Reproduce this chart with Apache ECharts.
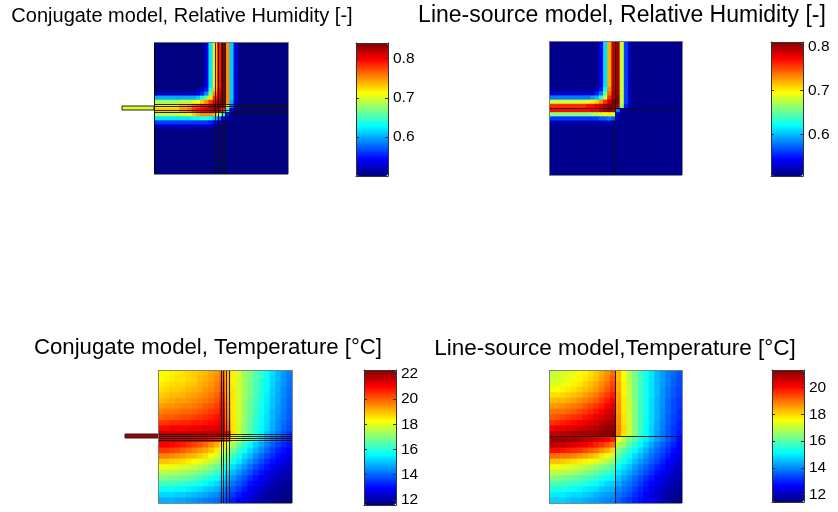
<!DOCTYPE html>
<html>
<head>
<meta charset="utf-8">
<script src="https://cdn.jsdelivr.net/npm/echarts@6/dist/echarts.min.js"></script>
<style>
html,body{margin:0;padding:0;background:#fff}
#chart{width:838px;height:512px}
</style>
</head>
<body>
<div id="chart"></div>
<script>
// ---- Panel titles ----
const panelTitles = [
  'Conjugate model, Relative Humidity [-]',
  'Line-source model, Relative Humidity [-]',
  'Conjugate model, Temperature [°C]',
  'Line-source model,Temperature [°C]'
];

// ---- Colour ranges and colourbar ticks ----
const rhConjugateRange = [0.5, 0.84];
const rhLineSourceRange = [0.506, 0.81];
const tConjugateRange = [11.6, 22.3];
const tLineSourceRange = [11.45, 21.3];
const rhConjugateTicks = [0.6, 0.7, 0.8];
const rhLineSourceTicks = [0.6, 0.7, 0.8];
const tConjugateTicks = [12, 14, 16, 18, 20, 22];
const tLineSourceTicks = [12, 14, 16, 18, 20];

// ---- Pipe walls (normalised domain coordinates, x from left, y from top) ----
const rhConjugateWalls = { x: [0.463, 0.480, 0.510, 0.532], y: [0.470, 0.490, 0.515, 0.533] };
const rhLineSourceWalls = { x: [0.504], y: [0.502] };
const tConjugateWalls = { x: [0.470, 0.487, 0.505, 0.530], y: [0.476, 0.501, 0.514, 0.532] };
const tLineSourceWalls = { x: [0.504], y: [0.496] };

// ---- Values inside the pipe stub that leaves the domain (conjugate model) ----
const rhConjugatePipe = 0.70;
const tConjugatePipe = 21.9;

// ---- Relative humidity, conjugate model [%], 32 x 32 cells, rows top to bottom ----
const rhConjugate = [
  [50,50,50,50,50,50,50,50,50,50,50,50,53,62,72,79,84,75,61,53,50,50,50,50,50,50,50,50,50,50,50,50],
  [50,50,50,50,50,50,50,50,50,50,50,50,53,62,72,79,84,75,61,53,50,50,50,50,50,50,50,50,50,50,50,50],
  [50,50,50,50,50,50,50,50,50,50,50,50,53,62,72,79,84,75,61,53,50,50,50,50,50,50,50,50,50,50,50,50],
  [50,50,50,50,50,50,50,50,50,50,50,50,53,62,72,79,84,75,61,53,50,50,50,50,50,50,50,50,50,50,50,50],
  [50,50,50,50,50,50,50,50,50,50,50,50,53,62,72,79,84,75,61,53,50,50,50,50,50,50,50,50,50,50,50,50],
  [50,50,50,50,50,50,50,50,50,50,50,50,53,62,72,79,84,75,61,53,50,50,50,50,50,50,50,50,50,50,50,50],
  [50,50,50,50,50,50,50,50,50,50,50,50,53,62,72,79,84,75,61,53,50,50,50,50,50,50,50,50,50,50,50,50],
  [50,50,50,50,50,50,50,50,50,50,50,50,53,62,72,79,84,75,61,53,50,50,50,50,50,50,50,50,50,50,50,50],
  [50,50,50,50,50,50,50,50,50,50,50,50,53,62,72,79,84,75,61,53,50,50,50,50,50,50,50,50,50,50,50,50],
  [50,50,50,50,50,50,50,50,50,50,50,50,53,62,72,79,84,75,61,53,50,50,50,50,50,50,50,50,50,50,50,50],
  [50,50,50,50,50,50,50,50,50,50,50,50,53,62,72,79,84,75,61,53,50,50,50,50,50,50,50,50,50,50,50,50],
  [50,50,50,50,50,50,50,50,50,50,51,52,55,64,73,80,84,75,61,53,50,50,50,50,50,50,50,50,50,50,50,50],
  [52,52,52,52,52,52,52,52,52,52,53,55,59,67,75,81,84,75,61,53,50,50,50,50,50,50,50,50,50,50,50,50],
  [60,60,60,60,60,60,60,60,60,60,61,63,67,72,78,82,84,75,61,53,50,50,50,50,50,50,50,50,50,50,50,50],
  [68,68,68,68,68,68,69,69,69,70,71,73,75,78,81,83,84,75,60,53,50,50,50,50,50,50,50,50,50,50,50,50],
  [72,72,72,72,72,72,74,74,75,77,78,79,80,82,83,84,83,72,58,52,50,50,50,50,50,50,50,50,50,50,50,50],
  [73,73,73,73,73,73,75,75,76,78,79,80,81,82,83,82,78,64,54,51,50,50,50,50,50,50,50,50,50,50,50,50],
  [69,69,69,69,69,69,70,70,71,73,74,75,75,75,74,70,63,55,51,50,50,50,50,50,50,50,50,50,50,50,50,50],
  [62,62,62,62,62,62,62,62,62,63,63,64,64,63,61,58,54,51,50,50,50,50,50,50,50,50,50,50,50,50,50,50],
  [56,56,56,56,56,56,56,56,56,56,56,56,56,55,54,52,51,50,50,50,50,50,50,50,50,50,50,50,50,50,50,50],
  [52,52,52,52,52,52,52,52,52,52,52,52,52,52,51,50,50,50,50,50,50,50,50,50,50,50,50,50,50,50,50,50],
  [50,50,50,50,50,50,50,50,50,50,50,50,50,50,50,50,50,50,50,50,50,50,50,50,50,50,50,50,50,50,50,50],
  [50,50,50,50,50,50,50,50,50,50,50,50,50,50,50,50,50,50,50,50,50,50,50,50,50,50,50,50,50,50,50,50],
  [50,50,50,50,50,50,50,50,50,50,50,50,50,50,50,50,50,50,50,50,50,50,50,50,50,50,50,50,50,50,50,50],
  [50,50,50,50,50,50,50,50,50,50,50,50,50,50,50,50,50,50,50,50,50,50,50,50,50,50,50,50,50,50,50,50],
  [50,50,50,50,50,50,50,50,50,50,50,50,50,50,50,50,50,50,50,50,50,50,50,50,50,50,50,50,50,50,50,50],
  [50,50,50,50,50,50,50,50,50,50,50,50,50,50,50,50,50,50,50,50,50,50,50,50,50,50,50,50,50,50,50,50],
  [50,50,50,50,50,50,50,50,50,50,50,50,50,50,50,50,50,50,50,50,50,50,50,50,50,50,50,50,50,50,50,50],
  [50,50,50,50,50,50,50,50,50,50,50,50,50,50,50,50,50,50,50,50,50,50,50,50,50,50,50,50,50,50,50,50],
  [50,50,50,50,50,50,50,50,50,50,50,50,50,50,50,50,50,50,50,50,50,50,50,50,50,50,50,50,50,50,50,50],
  [50,50,50,50,50,50,50,50,50,50,50,50,50,50,50,50,50,50,50,50,50,50,50,50,50,50,50,50,50,50,50,50],
  [50,50,50,50,50,50,50,50,50,50,50,50,50,50,50,50,50,50,50,50,50,50,50,50,50,50,50,50,50,50,50,50]
];

// ---- Relative humidity, line-source model [%], 32 x 32 cells ----
const rhLineSource = [
  [51,51,51,51,51,51,51,51,51,51,51,51,54,61,72,79,80,68,56,52,51,51,51,51,51,51,51,51,51,51,51,51],
  [51,51,51,51,51,51,51,51,51,51,51,51,54,61,72,79,80,68,56,52,51,51,51,51,51,51,51,51,51,51,51,51],
  [51,51,51,51,51,51,51,51,51,51,51,51,54,61,72,79,80,68,56,52,51,51,51,51,51,51,51,51,51,51,51,51],
  [51,51,51,51,51,51,51,51,51,51,51,51,54,61,72,79,80,68,56,52,51,51,51,51,51,51,51,51,51,51,51,51],
  [51,51,51,51,51,51,51,51,51,51,51,51,54,61,72,79,80,68,56,52,51,51,51,51,51,51,51,51,51,51,51,51],
  [51,51,51,51,51,51,51,51,51,51,51,51,54,61,72,79,80,68,56,52,51,51,51,51,51,51,51,51,51,51,51,51],
  [51,51,51,51,51,51,51,51,51,51,51,51,54,61,72,79,80,68,56,52,51,51,51,51,51,51,51,51,51,51,51,51],
  [51,51,51,51,51,51,51,51,51,51,51,51,54,61,72,79,80,68,56,52,51,51,51,51,51,51,51,51,51,51,51,51],
  [51,51,51,51,51,51,51,51,51,51,51,51,54,61,72,79,80,68,56,52,51,51,51,51,51,51,51,51,51,51,51,51],
  [51,51,51,51,51,51,51,51,51,51,51,51,54,61,72,79,80,68,56,52,51,51,51,51,51,51,51,51,51,51,51,51],
  [51,51,51,51,51,51,51,51,51,51,51,51,54,61,72,79,80,68,56,52,51,51,51,51,51,51,51,51,51,51,51,51],
  [51,51,51,51,51,51,51,51,51,51,51,52,55,62,73,79,80,68,56,52,51,51,51,51,51,51,51,51,51,51,51,51],
  [53,53,53,53,53,53,53,53,53,53,53,55,58,65,74,80,80,68,56,52,51,51,51,51,51,51,51,51,51,51,51,51],
  [58,58,58,58,58,58,58,58,58,58,59,60,63,68,76,80,81,68,56,52,51,51,51,51,51,51,51,51,51,51,51,51],
  [68,68,68,68,68,68,68,68,68,69,70,71,73,76,79,81,81,68,56,52,51,51,51,51,51,51,51,51,51,51,51,51],
  [76,76,76,76,76,76,76,76,76,77,77,78,79,80,81,81,80,66,55,52,51,51,51,51,51,51,51,51,51,51,51,51],
  [77,77,77,77,77,77,77,77,77,77,78,78,79,80,81,80,58,52,51,51,51,51,51,51,51,51,51,51,51,51,51,51],
  [66,66,66,66,66,66,66,66,66,66,67,67,68,69,70,68,53,51,51,51,51,51,51,51,51,51,51,51,51,51,51,51],
  [56,56,56,56,56,56,56,56,56,56,56,56,57,57,58,57,52,51,51,51,51,51,51,51,51,51,51,51,51,51,51,51],
  [52,52,52,52,52,52,52,52,52,52,52,52,52,52,52,52,51,51,51,51,51,51,51,51,51,51,51,51,51,51,51,51],
  [51,51,51,51,51,51,51,51,51,51,51,51,51,51,51,51,51,51,51,51,51,51,51,51,51,51,51,51,51,51,51,51],
  [51,51,51,51,51,51,51,51,51,51,51,51,51,51,51,51,51,51,51,51,51,51,51,51,51,51,51,51,51,51,51,51],
  [51,51,51,51,51,51,51,51,51,51,51,51,51,51,51,51,51,51,51,51,51,51,51,51,51,51,51,51,51,51,51,51],
  [51,51,51,51,51,51,51,51,51,51,51,51,51,51,51,51,51,51,51,51,51,51,51,51,51,51,51,51,51,51,51,51],
  [51,51,51,51,51,51,51,51,51,51,51,51,51,51,51,51,51,51,51,51,51,51,51,51,51,51,51,51,51,51,51,51],
  [51,51,51,51,51,51,51,51,51,51,51,51,51,51,51,51,51,51,51,51,51,51,51,51,51,51,51,51,51,51,51,51],
  [51,51,51,51,51,51,51,51,51,51,51,51,51,51,51,51,51,51,51,51,51,51,51,51,51,51,51,51,51,51,51,51],
  [51,51,51,51,51,51,51,51,51,51,51,51,51,51,51,51,51,51,51,51,51,51,51,51,51,51,51,51,51,51,51,51],
  [51,51,51,51,51,51,51,51,51,51,51,51,51,51,51,51,51,51,51,51,51,51,51,51,51,51,51,51,51,51,51,51],
  [51,51,51,51,51,51,51,51,51,51,51,51,51,51,51,51,51,51,51,51,51,51,51,51,51,51,51,51,51,51,51,51],
  [51,51,51,51,51,51,51,51,51,51,51,51,51,51,51,51,51,51,51,51,51,51,51,51,51,51,51,51,51,51,51,51],
  [51,51,51,51,51,51,51,51,51,51,51,51,51,51,51,51,51,51,51,51,51,51,51,51,51,51,51,51,51,51,51,51]
];

// ---- Temperature, conjugate model [°C], 24 x 24 cells ----
const tConjugate = [
  [18.2,18.3,18.4,18.5,18.6,18.7,18.8,18.9,19.0,19.2,19.4,19.8,19.0,18.4,17.8,17.3,16.9,16.5,16.1,15.7,15.3,14.9,14.6,14.3],
  [18.3,18.4,18.5,18.6,18.6,18.7,18.8,19.0,19.1,19.3,19.5,19.9,19.0,18.4,17.8,17.3,16.9,16.5,16.1,15.7,15.2,14.9,14.5,14.2],
  [18.4,18.5,18.6,18.7,18.7,18.8,18.9,19.1,19.2,19.4,19.6,20.1,19.1,18.4,17.8,17.3,16.8,16.4,16.0,15.6,15.2,14.8,14.5,14.2],
  [18.6,18.7,18.8,18.8,18.9,19.0,19.1,19.2,19.4,19.5,19.7,20.2,19.1,18.5,17.8,17.3,16.8,16.4,16.0,15.6,15.1,14.8,14.4,14.1],
  [18.8,18.9,19.0,19.0,19.1,19.2,19.3,19.4,19.5,19.7,19.9,20.4,19.2,18.5,17.8,17.3,16.8,16.4,15.9,15.5,15.1,14.7,14.4,14.1],
  [19.0,19.1,19.2,19.3,19.3,19.4,19.5,19.6,19.7,19.9,20.1,20.6,19.3,18.5,17.8,17.2,16.7,16.3,15.9,15.5,15.0,14.7,14.3,14.0],
  [19.3,19.4,19.4,19.5,19.6,19.6,19.7,19.8,20.0,20.1,20.3,20.8,19.4,18.5,17.8,17.2,16.7,16.3,15.8,15.4,15.0,14.6,14.3,14.0],
  [19.6,19.7,19.7,19.8,19.9,19.9,20.0,20.1,20.2,20.4,20.5,21.0,19.5,18.5,17.8,17.2,16.7,16.2,15.8,15.4,14.9,14.6,14.2,13.9],
  [19.9,20.0,20.0,20.1,20.2,20.2,20.3,20.4,20.5,20.6,20.8,21.2,19.6,18.5,17.8,17.2,16.6,16.2,15.7,15.3,14.9,14.5,14.2,13.9],
  [20.4,20.4,20.5,20.5,20.6,20.6,20.7,20.7,20.8,20.9,21.0,21.3,19.8,18.5,17.8,17.1,16.6,16.1,15.7,15.3,14.8,14.4,14.1,13.8],
  [20.9,20.9,21.0,21.0,21.0,21.1,21.1,21.1,21.2,21.2,21.3,21.5,20.0,18.5,17.7,17.1,16.5,16.0,15.6,15.2,14.8,14.4,14.0,13.7],
  [21.6,21.6,21.6,21.6,21.6,21.6,21.6,21.6,21.6,21.6,21.6,21.6,21.2,18.6,17.9,17.2,16.6,16.0,15.5,15.0,14.6,14.2,13.8,13.5],
  [21.5,21.5,21.5,21.5,21.4,21.4,21.3,21.2,21.1,20.9,20.7,20.4,19.8,18.2,17.6,16.9,16.3,15.7,15.2,14.7,14.3,13.9,13.6,13.3],
  [21.0,21.0,20.9,20.8,20.7,20.5,20.3,20.1,19.8,19.5,19.1,18.6,18.0,17.3,16.7,16.1,15.6,15.1,14.7,14.3,13.9,13.6,13.3,13.1],
  [20.4,20.4,20.3,20.2,20.0,19.8,19.6,19.4,19.2,18.9,18.5,18.0,17.4,16.8,16.3,15.7,15.2,14.8,14.4,14.0,13.6,13.3,13.1,12.9],
  [19.6,19.6,19.5,19.4,19.3,19.1,19.0,18.8,18.6,18.3,17.9,17.4,16.8,16.3,15.8,15.3,14.9,14.4,14.0,13.7,13.4,13.1,12.9,12.7],
  [18.9,18.9,18.8,18.7,18.6,18.5,18.3,18.1,17.9,17.6,17.3,16.8,16.3,15.8,15.4,14.9,14.5,14.1,13.7,13.4,13.1,12.9,12.7,12.5],
  [18.2,18.2,18.1,18.0,17.9,17.8,17.7,17.5,17.3,17.0,16.7,16.3,15.8,15.3,14.9,14.5,14.1,13.7,13.4,13.1,12.9,12.6,12.4,12.3],
  [17.5,17.5,17.4,17.4,17.3,17.2,17.0,16.9,16.7,16.5,16.2,15.8,15.3,14.9,14.5,14.1,13.8,13.4,13.1,12.8,12.6,12.4,12.2,12.1],
  [16.9,16.9,16.8,16.8,16.7,16.6,16.5,16.3,16.1,15.9,15.7,15.3,14.9,14.5,14.1,13.8,13.4,13.1,12.8,12.6,12.4,12.2,12.1,12.0],
  [16.3,16.3,16.3,16.2,16.1,16.0,15.9,15.8,15.6,15.4,15.2,14.9,14.5,14.1,13.8,13.5,13.1,12.8,12.6,12.4,12.2,12.0,11.9,11.9],
  [15.7,15.7,15.7,15.6,15.6,15.5,15.4,15.3,15.1,15.0,14.8,14.5,14.1,13.8,13.5,13.2,12.9,12.6,12.4,12.2,12.0,11.9,11.8,11.8],
  [15.2,15.2,15.2,15.1,15.1,15.0,14.9,14.8,14.7,14.5,14.4,14.1,13.8,13.5,13.2,12.9,12.7,12.4,12.2,12.0,11.9,11.8,11.7,11.7],
  [14.8,14.8,14.8,14.7,14.7,14.6,14.5,14.4,14.3,14.2,14.1,13.8,13.5,13.2,12.9,12.7,12.4,12.2,12.0,11.9,11.8,11.7,11.6,11.6]
];

// ---- Temperature, line-source model [°C], 24 x 24 cells ----
const tLineSource = [
  [17.0,17.1,17.2,17.3,17.4,17.6,17.7,17.9,18.1,18.4,18.7,19.0,18.3,17.6,16.9,16.3,15.8,15.3,14.9,14.5,14.2,13.9,13.7,13.5],
  [17.1,17.2,17.3,17.4,17.5,17.7,17.8,18.0,18.2,18.5,18.8,19.2,18.3,17.6,16.9,16.3,15.8,15.3,14.9,14.5,14.2,13.9,13.6,13.4],
  [17.3,17.3,17.4,17.5,17.7,17.8,18.0,18.2,18.4,18.7,19.0,19.4,18.4,17.7,16.9,16.3,15.8,15.3,14.9,14.5,14.2,13.9,13.6,13.4],
  [17.6,17.6,17.7,17.8,17.9,18.1,18.2,18.4,18.6,18.9,19.2,19.6,18.4,17.7,17.0,16.3,15.8,15.3,14.9,14.5,14.1,13.8,13.5,13.3],
  [17.9,17.9,18.0,18.1,18.2,18.3,18.5,18.7,18.9,19.2,19.5,19.8,18.5,17.7,17.0,16.3,15.8,15.3,14.9,14.5,14.1,13.8,13.5,13.3],
  [18.2,18.3,18.3,18.4,18.5,18.7,18.8,19.0,19.2,19.5,19.8,20.1,18.5,17.8,17.0,16.4,15.8,15.3,14.8,14.4,14.1,13.7,13.4,13.2],
  [18.6,18.6,18.7,18.8,18.9,19.0,19.2,19.4,19.6,19.8,20.1,20.4,18.6,17.8,17.0,16.4,15.8,15.3,14.8,14.4,14.1,13.7,13.4,13.2],
  [18.9,19.0,19.0,19.1,19.2,19.4,19.5,19.7,19.9,20.1,20.4,20.6,18.6,17.8,17.1,16.4,15.8,15.3,14.8,14.4,14.0,13.7,13.4,13.1],
  [19.2,19.3,19.4,19.5,19.6,19.7,19.9,20.0,20.2,20.4,20.6,20.8,18.7,17.9,17.1,16.4,15.8,15.3,14.8,14.4,14.0,13.6,13.3,13.1],
  [19.6,19.7,19.8,19.9,20.0,20.1,20.2,20.4,20.5,20.7,20.9,21.0,18.7,17.9,17.1,16.4,15.8,15.2,14.8,14.3,13.9,13.6,13.3,13.0],
  [20.1,20.2,20.2,20.3,20.4,20.5,20.6,20.7,20.8,20.9,21.1,21.2,18.8,18.0,17.1,16.4,15.8,15.2,14.7,14.3,13.9,13.5,13.2,13.0],
  [20.7,20.7,20.8,20.8,20.9,20.9,21.0,21.0,21.1,21.2,21.2,21.3,18.8,17.9,17.1,16.4,15.7,15.2,14.7,14.2,13.8,13.5,13.2,12.9],
  [21.0,21.0,21.0,20.9,20.9,20.8,20.7,20.6,20.5,20.3,20.1,19.8,17.6,17.0,16.4,15.9,15.4,15.0,14.6,14.2,13.9,13.5,13.2,12.8],
  [20.7,20.6,20.6,20.5,20.4,20.3,20.2,20.0,19.8,19.6,19.3,19.0,16.9,16.5,16.0,15.5,15.1,14.7,14.3,13.9,13.6,13.3,13.0,12.7],
  [20.0,20.0,19.9,19.8,19.7,19.6,19.4,19.2,19.0,18.7,18.4,18.0,16.4,16.0,15.6,15.2,14.8,14.4,14.0,13.7,13.4,13.1,12.8,12.5],
  [19.0,19.0,18.9,18.9,18.8,18.6,18.5,18.3,18.1,17.8,17.5,17.2,16.0,15.6,15.2,14.8,14.5,14.1,13.8,13.5,13.2,12.9,12.6,12.4],
  [18.2,18.2,18.1,18.0,17.9,17.8,17.7,17.5,17.3,17.1,16.8,16.5,15.6,15.3,14.9,14.5,14.2,13.9,13.6,13.3,13.0,12.7,12.5,12.2],
  [17.5,17.5,17.4,17.3,17.2,17.1,17.0,16.8,16.6,16.4,16.2,16.0,15.2,14.9,14.6,14.2,13.9,13.6,13.3,13.0,12.8,12.5,12.3,12.1],
  [17.0,16.9,16.9,16.8,16.7,16.6,16.4,16.3,16.1,15.9,15.7,15.5,14.9,14.6,14.3,14.0,13.7,13.4,13.1,12.8,12.6,12.4,12.1,12.0],
  [16.4,16.4,16.3,16.2,16.1,16.0,15.9,15.8,15.6,15.4,15.2,15.1,14.6,14.3,14.0,13.7,13.4,13.1,12.9,12.6,12.4,12.2,12.0,11.9],
  [15.9,15.9,15.8,15.7,15.7,15.6,15.5,15.3,15.2,15.0,14.8,14.7,14.3,14.0,13.8,13.5,13.2,12.9,12.7,12.5,12.3,12.1,11.9,11.8],
  [15.4,15.4,15.4,15.3,15.2,15.1,15.0,14.9,14.8,14.6,14.5,14.4,14.0,13.8,13.6,13.3,13.0,12.8,12.5,12.3,12.1,11.9,11.8,11.7],
  [15.0,15.0,15.0,14.9,14.8,14.8,14.7,14.6,14.4,14.3,14.2,14.1,13.8,13.6,13.4,13.1,12.9,12.6,12.4,12.2,12.0,11.8,11.7,11.6],
  [14.7,14.7,14.7,14.6,14.5,14.5,14.4,14.3,14.2,14.1,14.0,13.9,13.6,13.4,13.2,13.0,12.8,12.6,12.4,12.2,12.0,11.8,11.6,11.5]
];

// ---- Layout and styling ----
const FONT = '"Liberation Sans", Arial, Helvetica, sans-serif';
const JET = ['#000080', '#0000ff', '#0080ff', '#00ffff', '#80ff80', '#ffff00', '#ff8000', '#ff0000', '#800000'];

const panels = [
  { title: panelTitles[0], rows: rhConjugate, scale: 100, range: rhConjugateRange, ticks: rhConjugateTicks,
    walls: rhConjugateWalls, pipe: rhConjugatePipe,
    box: { left: 154, top: 42, width: 134, height: 132 },
    bar: { left: 356, top: 43, width: 32, height: 133 },
    pipeBox: { left: 122, top: 106, width: 32, height: 4 },
    heading: { x: 182, y: 6, size: 20 }, leftEdge: '#000' },
  { title: panelTitles[1], rows: rhLineSource, scale: 100, range: rhLineSourceRange, ticks: rhLineSourceTicks,
    walls: rhLineSourceWalls,
    box: { left: 549, top: 41, width: 133, height: 134 },
    bar: { left: 771, top: 42, width: 32, height: 134 },
    heading: { x: 622, y: 4, size: 23 } },
  { title: panelTitles[2], rows: tConjugate, scale: 1, range: tConjugateRange, ticks: tConjugateTicks,
    walls: tConjugateWalls, pipe: tConjugatePipe,
    box: { left: 158, top: 370, width: 134, height: 133 },
    bar: { left: 364, top: 370, width: 32, height: 135 },
    pipeBox: { left: 125, top: 434, width: 33, height: 4 },
    heading: { x: 208, y: 337, size: 22.2 } },
  { title: panelTitles[3], rows: tLineSource, scale: 1, range: tLineSourceRange, ticks: tLineSourceTicks,
    walls: tLineSourceWalls,
    box: { left: 549, top: 370, width: 133, height: 133 },
    bar: { left: 772, top: 370, width: 32, height: 132 },
    heading: { x: 615, y: 337, size: 22.5 } }
];

function indexList(n) { const a = []; for (let i = 0; i < n; i++) a.push(i); return a; }
function fieldCells(rows, scale) {
  const out = [];
  rows.forEach((row, r) => row.forEach((v, c) => out.push([c, r, v / scale])));
  return out;
}
// one filled cell per value; slightly oversized so neighbouring cells leave no seam
function renderCell(params, api) {
  const p = api.coord([api.value(0), api.value(1)]);
  const s = api.size([1, 1]);
  return {
    type: 'rect',
    shape: { x: p[0] - s[0] / 2, y: p[1] - s[1] / 2, width: s[0] + 0.8, height: s[1] + 0.8 },
    style: { fill: api.visual('color') }
  };
}
function renderPipe(params, api) {
  const p = api.coord([api.value(0), api.value(1)]);
  const s = api.size([1, 1]);
  return {
    type: 'rect',
    shape: { x: p[0] - s[0] / 2, y: p[1] - s[1] / 2, width: s[0], height: s[1] },
    style: { fill: api.visual('color'), stroke: '#222', lineWidth: 1 }
  };
}

const option = {
  animation: false,
  backgroundColor: '#fff',
  textStyle: { fontFamily: FONT },
  title: [], grid: [], xAxis: [], yAxis: [], visualMap: [], series: []
};

function addAxisPair(gridIndex, xSpec, ySpec) {
  option.xAxis.push(Object.assign({ gridIndex }, xSpec));
  option.yAxis.push(Object.assign({ gridIndex }, ySpec));
  return option.xAxis.length - 1;
}
const hidden = { show: false };

panels.forEach(p => {
  option.title.push({
    text: p.title, left: p.heading.x, top: p.heading.y, textAlign: 'center', padding: 0,
    textStyle: { fontSize: p.heading.size, fontWeight: 'normal', color: '#000', fontFamily: FONT }
  });

  // field
  const g = option.grid.push(Object.assign({}, p.box)) - 1;
  const nx = p.rows[0].length, ny = p.rows.length;
  const cat = addAxisPair(g,
    Object.assign({ type: 'category', data: indexList(nx) }, hidden),
    Object.assign({ type: 'category', data: indexList(ny), inverse: true }, hidden));
  const val = addAxisPair(g,
    Object.assign({ type: 'value', min: 0, max: 1 }, hidden),
    Object.assign({ type: 'value', min: 0, max: 1, inverse: true }, hidden));
  const mapped = [];
  mapped.push(option.series.push({
    type: 'custom', xAxisIndex: cat, yAxisIndex: cat, data: fieldCells(p.rows, p.scale),
    renderItem: renderCell, encode: { x: 0, y: 1 }, clip: true, progressive: 0, silent: true
  }) - 1);

  // pipe stub outside the domain
  if (p.pipe !== undefined) {
    const pg = option.grid.push(Object.assign({}, p.pipeBox)) - 1;
    const pa = addAxisPair(pg,
      Object.assign({ type: 'category', data: [0] }, hidden),
      Object.assign({ type: 'category', data: [0] }, hidden));
    mapped.push(option.series.push({
      type: 'custom', xAxisIndex: pa, yAxisIndex: pa, data: [[0, 0, p.pipe]],
      renderItem: renderPipe, encode: { x: 0, y: 1 }, silent: true
    }) - 1);
  }

  // pipe walls and domain frame
  const lines = [];
  p.walls.x.forEach(u => lines.push({ xAxis: u }));
  p.walls.y.forEach(v => lines.push({ yAxis: v }));
  const frame = '#7a7a7a';
  lines.push({ xAxis: 0, lineStyle: { color: p.leftEdge || frame } });
  lines.push({ xAxis: 1, lineStyle: { color: frame } });
  lines.push({ yAxis: 0, lineStyle: { color: frame } });
  lines.push({ yAxis: 1, lineStyle: { color: frame } });
  option.series.push({
    type: 'line', xAxisIndex: val, yAxisIndex: val, data: [], silent: true, z: 5,
    markLine: {
      silent: true, animation: false, symbol: ['none', 'none'], label: { show: false },
      lineStyle: { color: '#111', width: 1, type: 'solid', opacity: 0.9 }, emphasis: { disabled: true },
      data: lines
    }
  });

  // colour bar
  option.visualMap.push({
    type: 'continuous', seriesIndex: mapped, dimension: 2,
    min: p.range[0], max: p.range[1], inRange: { color: JET },
    calculable: false, hoverLink: false, padding: 0, orient: 'vertical',
    left: p.bar.left, top: p.bar.top, itemWidth: p.bar.width, itemHeight: p.bar.height
  });
  const cg = option.grid.push(Object.assign({}, p.bar)) - 1;
  const edge = { show: true, onZero: false, lineStyle: { color: '#333', width: 1 } };
  const barY = {
    type: 'value', min: p.range[0], max: p.range[1], z: 6, splitLine: { show: false },
    axisLine: edge
  };
  addAxisPair(cg,
    { type: 'value', min: 0, max: 1, position: 'bottom', z: 6, axisLine: edge, axisTick: { show: false }, axisLabel: { show: false }, splitLine: { show: false } },
    Object.assign({}, barY, {
      position: 'right',
      axisTick: { show: true, inside: true, length: 3, customValues: p.ticks, lineStyle: { color: '#333' } },
      axisLabel: { show: true, customValues: p.ticks, color: '#000', fontSize: 15.5, fontFamily: FONT, margin: 5 }
    }));
  addAxisPair(cg,
    { type: 'value', min: 0, max: 1, position: 'top', z: 6, axisLine: edge, axisTick: { show: false }, axisLabel: { show: false }, splitLine: { show: false } },
    Object.assign({}, barY, {
      position: 'left',
      axisTick: { show: true, inside: true, length: 3, customValues: p.ticks, lineStyle: { color: '#333' } },
      axisLabel: { show: false }
    }));
});

const chart = echarts.init(document.getElementById('chart'), null, { renderer: 'canvas' });
chart.setOption(option);
</script>
</body>
</html>
